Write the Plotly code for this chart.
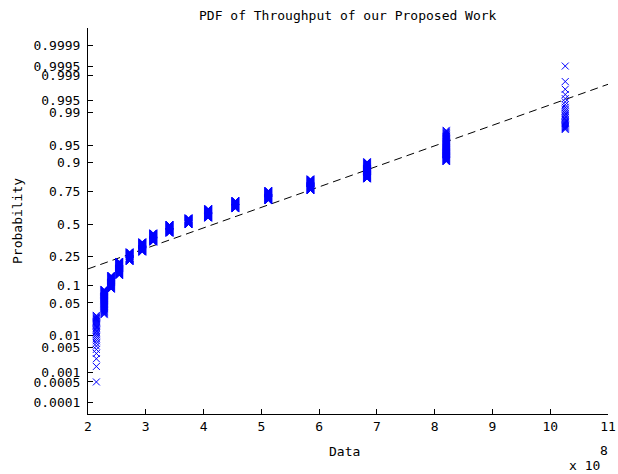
import plotly.graph_objects as go
from statistics import NormalDist

# ---- data ----
# distinct sample values (throughput, raw units) and how many samples share each value
values = [2.145e8, 2.28e8, 2.40e8, 2.54e8, 2.72e8, 2.94e8, 3.13e8, 3.41e8,
          3.74e8, 4.08e8, 4.55e8, 5.12e8, 5.85e8, 6.83e8, 8.20e8, 10.26e8]
counts = [29, 58, 55, 76, 62, 74, 71, 70, 55, 75, 62, 70, 69, 77, 72, 25]

# reference line parameters (mu, sigma)
line_mu = 4.19e8
line_sigma = 2.34e8

prob_ticks = [0.0001, 0.0005, 0.001, 0.005, 0.01, 0.05, 0.1, 0.25, 0.5,
              0.75, 0.9, 0.95, 0.99, 0.995, 0.999, 0.9995, 0.9999]
prob_labels = ["0.0001", "0.0005", "0.001", "0.005", "0.01", "0.05", "0.1",
               "0.25", "0.5", "0.75", "0.9", "0.95", "0.99", "0.995",
               "0.999", "0.9995", "0.9999"]
x_ticks = [2e8, 3e8, 4e8, 5e8, 6e8, 7e8, 8e8, 9e8, 10e8, 11e8]
x_labels = ["2", "3", "4", "5", "6", "7", "8", "9", "10", "11"]

# ---- normal probability plot transform ----
nd = NormalDist()
sample = []
for v, c in zip(values, counts):
    sample.extend([v] * c)
sample.sort()
n = len(sample)
zs = [nd.inv_cdf((i + 0.5) / n) for i in range(n)]

x_lo, x_hi = 2e8, 11e8
line_x = [x_lo, x_hi]
line_y = [(xv - line_mu) / line_sigma for xv in line_x]

FONT = "DejaVu Sans Mono"

fig = go.Figure()
fig.add_trace(go.Scatter(
    x=line_x, y=line_y, mode="lines",
    line=dict(color="black", width=1, dash="8px,5px"),
    hoverinfo="skip", showlegend=False))
fig.add_trace(go.Scatter(
    x=sample, y=zs, mode="markers",
    marker=dict(symbol="x-thin", size=7, color="#0000ff",
                line=dict(color="#0000ff", width=1)),
    showlegend=False))

top_px, bot_px, c_px, scale = 28, 414, 224, 48.0
y_range = [(c_px - bot_px) / scale, (c_px - top_px) / scale]

fig.update_layout(
    width=618, height=474,
    margin=dict(l=88, r=10, t=28, b=60),
    paper_bgcolor="white", plot_bgcolor="white",
    font=dict(family=FONT, size=13, color="black"),
    showlegend=False,
    xaxis=dict(range=[x_lo, x_hi], tickvals=x_ticks, ticktext=x_labels,
               showgrid=False, zeroline=False, showline=True,
               linecolor="black", linewidth=1, mirror=False,
               ticks="inside", ticklen=5, tickcolor="black",
               automargin=False,
               tickfont=dict(family=FONT, size=13)),
    yaxis=dict(range=y_range,
               tickvals=[nd.inv_cdf(p) for p in prob_ticks],
               ticktext=prob_labels,
               showgrid=False, zeroline=False, showline=True,
               linecolor="black", linewidth=1, mirror=False,
               ticks="inside", ticklen=5, tickcolor="black",
               ticklabelstandoff=4, automargin=False,
               tickfont=dict(family=FONT, size=13)),
    annotations=[
        dict(text="PDF of Throughput of our Proposed Work", xref="paper",
             yref="paper", x=0.5, y=1 + (top_px - 16) / 386.0,
             xanchor="center", yanchor="middle", showarrow=False,
             font=dict(family=FONT, size=13)),
        dict(text="Data", xref="paper", yref="paper", x=(344 - 88) / 520.0,
             y=(bot_px - 452) / 386.0, xanchor="center", yanchor="middle",
             showarrow=False, font=dict(family=FONT, size=13)),
        dict(text="Probability", xref="paper", yref="paper",
             x=(17 - 88) / 520.0, y=0.5, textangle=-90,
             xanchor="center", yanchor="middle", showarrow=False,
             font=dict(family=FONT, size=13)),
        dict(text="x 10", xref="paper", yref="paper",
             x=(584 - 88) / 520.0, y=(bot_px - 465) / 386.0,
             xanchor="center", yanchor="middle", showarrow=False,
             font=dict(family=FONT, size=13)),
        dict(text="8", xref="paper", yref="paper",
             x=(604 - 88) / 520.0, y=(bot_px - 451) / 386.0,
             xanchor="center", yanchor="middle", showarrow=False,
             font=dict(family=FONT, size=13)),
    ],
)

fig.write_html("out.html")
